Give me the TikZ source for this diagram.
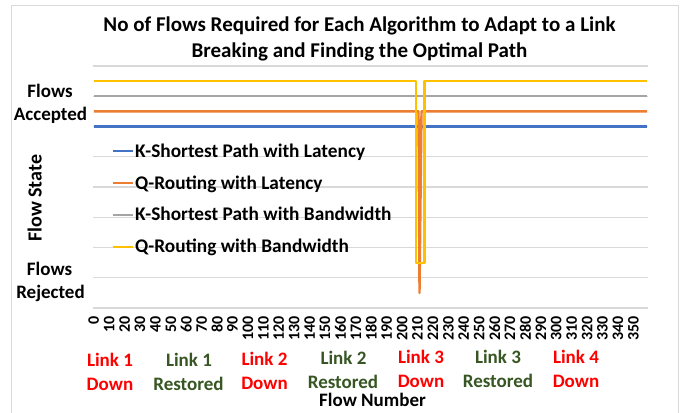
\documentclass[tikz,border=0pt]{standalone}
\usepackage{fontspec}
\setmainfont{Carlito}
\definecolor{cBlue}{HTML}{4472C4}
\definecolor{cOrange}{HTML}{ED7D31}
\definecolor{cGray}{HTML}{A5A5A5}
\definecolor{cYellow}{HTML}{FFC000}
\definecolor{gridgray}{HTML}{D9D9D9}
\definecolor{linkred}{HTML}{FF0000}
\definecolor{linkgreen}{HTML}{375623}
\begin{document}
\begin{tikzpicture}[x=1pt,y=-1pt,
  gridln/.style={draw=gridgray,line width=1.3pt},
  serie/.style={line width=2.4pt,line join=round},
  txt/.style={font=\bfseries\fontsize{19}{23}\selectfont,inner sep=0pt,anchor=base},
  legtxt/.style={font=\bfseries\fontsize{19.3}{23}\selectfont,inner sep=0pt,anchor=base west},
  ttl/.style={font=\bfseries\fontsize{21}{26}\selectfont,inner sep=0pt,anchor=base},
  tick/.style={font=\bfseries\fontsize{16}{19}\selectfont,inner sep=0pt,rotate=90,anchor=east},
  down/.style={txt,text=linkred},
  rest/.style={txt,text=linkgreen}]
\useasboundingbox (0,0) rectangle (687,412);
\fill[white] (0,0) rectangle (687,412);
% chart frame
\draw[gridgray,line width=1pt] (11,6) rectangle (678,420);
% title
\node[ttl] (title1) at (359.5,32) {No of Flows Required for Each Algorithm to Adapt to a Link};
\node[ttl] (title2) at (359.5,58) {Breaking and Finding the Optimal Path};
% gridlines
\foreach \i in {0,...,8}{
  \draw[gridln] (93,{66+30.25*\i}) -- (648,{66+30.25*\i});
}
% series
\draw[serie,cBlue] (93.8,126.5) -- (647.2,126.5);
\draw[serie,cOrange] (93.8,111.4) -- (418.5,111.4) -- (419.5,292.9) -- (421.5,111.4) -- (647.2,111.4);
\draw[serie,cGray] (93.8,96.25) -- (647.2,96.25);
\draw[serie,cYellow] (93.8,81.1) -- (416,81.1) -- (416,262.7) -- (424.3,262.7) -- (424.3,81.1) -- (647.2,81.1);
% legend
\draw[serie,cBlue] (113,151) -- (133,151);
\node[legtxt] (leg1) at (135,157) {K-Shortest Path with Latency};
\draw[serie,cOrange] (113,183) -- (133,183);
\node[legtxt] (leg2) at (135,189) {Q-Routing with Latency};
\draw[serie,cGray] (113,215) -- (133,215);
\node[legtxt] (leg3) at (135,220.7) {K-Shortest Path with Bandwidth};
\draw[serie,cYellow] (113,246.7) -- (133,246.7);
\node[legtxt] (leg4) at (135,252.5) {Q-Routing with Bandwidth};
% y axis labels
\node[txt] (fa1) at (50,97) {Flows};
\node[txt] (fa2) at (50.5,120) {Accepted};
\node[txt] (fr1) at (49.5,275) {Flows};
\node[txt] (fr2) at (50.5,298) {Rejected};
\node[txt,font=\bfseries\fontsize{20}{24}\selectfont,rotate=90] (ytitle) at (41.5,198.3) {Flow State};
% x tick labels
\foreach \k in {0,...,35}{
  \pgfmathsetmacro\xx{93+(10*\k+0.5)*1.541667}
  \pgfmathtruncatemacro\lab{10*\k}
  \node[tick] (t\k) at (\xx,316) {\lab};
}
% link annotations
\node[down] (l1a) at (110,366) {Link 1};
\node[down] (l1b) at (110,390) {Down};
\node[rest] (r1a) at (189,366.5) {Link 1};
\node[rest] (r1b) at (188.5,390.5) {Restored};
\node[down] (l2a) at (264.5,365) {Link 2};
\node[down] (l2b) at (264.5,389) {Down};
\node[rest] (r2a) at (343.5,364.5) {Link 2};
\node[rest] (r2b) at (343,388) {Restored};
\node[down] (l3a) at (421,363.5) {Link 3};
\node[down] (l3b) at (421,387.5) {Down};
\node[rest] (r3a) at (498,363.5) {Link 3};
\node[rest] (r3b) at (498,387.5) {Restored};
\node[down] (l4a) at (576,363.5) {Link 4};
\node[down] (l4b) at (576,387.5) {Down};
% x axis title
\node[txt] (xtitle) at (372.5,406) {Flow Number};
\end{tikzpicture}
\end{document}
